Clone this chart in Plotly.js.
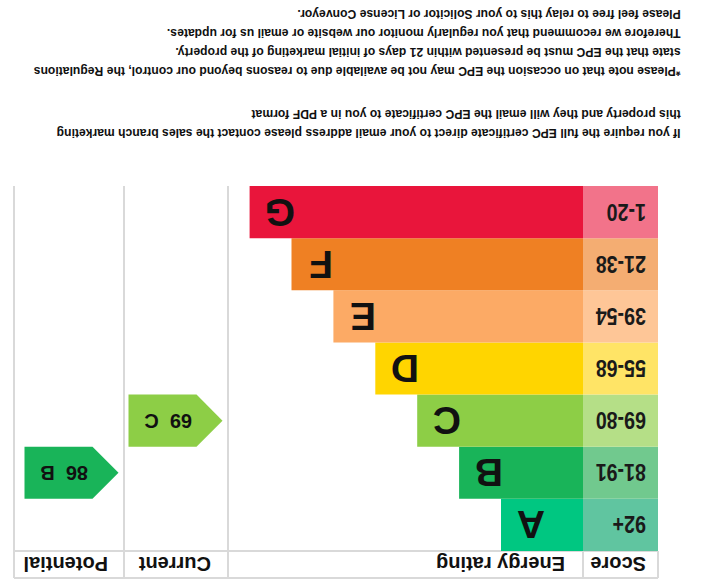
<!DOCTYPE html>
<html>
<head>
<meta charset="utf-8">
<script src="https://cdn.plot.ly/plotly-3.0.1.min.js"></script>
<style>
  html, body { margin: 0; padding: 0; background: #ffffff; }
  #chart { width: 704px; height: 582px; transform: rotate(180deg); transform-origin: 50% 50%; }
</style>
</head>
<body>
<div id="chart"></div>
<script>
// ---------- data ----------
const bands = ['A', 'B', 'C', 'D', 'E', 'F', 'G'];
const scoreRanges = ['92+', '81-91', '69-80', '55-68', '39-54', '21-38', '1-20'];
const bandColors = ['#00c781', '#19b459', '#8dce46', '#ffd500', '#fcaa65', '#ef8023', '#e9153b'];
const cellColors = ['#60c5a0', '#71c98e', '#b5df87', '#ffe466', '#fec697', '#f4ad72', '#f2738a'];
const headers = ['Score', 'Energy rating', 'Current', 'Potential'];
const currentScore = 69;
const currentBand = 'C';
const potentialScore = 86;
const potentialBand = 'B';
const noteBlock1 = [
  'If you require the full EPC certificate direct to your email address please contact the sales branch marketing',
  'this property and they will email the EPC certificate to you in a PDF format'
];
const noteBlock2 = [
  '*Please note that on occasion the EPC may not be available due to reasons beyond our control, the Regulations',
  'state that the EPC must be presented within 21 days of initial marketing of the property.',
  'Therefore we recommend that you regularly monitor our website or email us for updates.',
  'Please feel free to relay this to your Solicitor or License Conveyor.'
];

// ---------- layout constants (upright drawing, page rotated 180deg) ----------
const W = 704, H = 582;
const HEAD_Y0 = 4, HEAD_Y1 = 31;
const ROW_TOP = 31, ROW_H = 52.14;
const SCORE_X0 = 46, SCORE_X1 = 121;
const BAR_LEN0 = 82, BAR_STEP = 41.9;
const CUR_COL = [476, 580], POT_COL = [580, 690];
const ARROW_INSET = 5.5, ARROW_TIP = 26, ARROW_LEN = 94;
const GRID = '#d9d9d9';
const BOLD = 'Liberation Sans, Arial, sans-serif';
const SCORE_SCALE = 0.82, NOTE_SCALE = 0.937;
const NOTE_X = 21, NOTE1_Y = 448, NOTE2_Y = 510, NOTE_DY = 19.3;

const rowCenter = i => ROW_TOP + (i + 0.5) * ROW_H;
const rowY = bands.map((b, i) => rowCenter(i));
const barLen = bands.map((b, i) => BAR_LEN0 + i * BAR_STEP);

const traces = [];
// score cells
traces.push({
  type: 'bar', orientation: 'h',
  y: rowY, x: bands.map(() => SCORE_X1 - SCORE_X0), base: bands.map(() => SCORE_X0),
  width: bands.map(() => ROW_H),
  marker: { color: cellColors, line: { width: 0 } },
  hoverinfo: 'skip', showlegend: false
});
// rating bars
traces.push({
  type: 'bar', orientation: 'h',
  y: rowY, x: barLen, base: bands.map(() => SCORE_X1),
  width: bands.map(() => ROW_H),
  marker: { color: bandColors, line: { width: 0 } },
  hoverinfo: 'skip', showlegend: false
});

// arrows
function arrow(col, band) {
  const i = bands.indexOf(band);
  const y0 = ROW_TOP + i * ROW_H, y1 = y0 + ROW_H, ym = (y0 + y1) / 2;
  const xt = col[0] + ARROW_INSET, xe = xt + ARROW_LEN, xf = xt + ARROW_TIP;
  return {
    trace: {
      type: 'scatter', mode: 'lines', fill: 'toself',
      x: [xt, xf, xe, xe, xf, xt], y: [ym, y0, y0, y1, y1, ym],
      line: { width: 0, color: bandColors[i] }, fillcolor: bandColors[i],
      hoverinfo: 'skip', showlegend: false
    },
    center: [(xt + xe) / 2 + 7, ym]
  };
}
const curArrow = arrow(CUR_COL, currentBand);
const potArrow = arrow(POT_COL, potentialBand);
traces.push(curArrow.trace, potArrow.trace);

// ---------- text ----------
const annotations = [];
const condensed = [];
function addCondensed(a, s) { condensed.push([annotations.length, s]); annotations.push(a); }

bands.forEach((b, i) => {
  annotations.push({
    x: SCORE_X1 + barLen[i] - 30, y: rowY[i], text: b, showarrow: false,
    xanchor: 'center', yanchor: 'middle',
    font: { family: BOLD, size: 39, color: '#111111', weight: 'bold' }
  });
  addCondensed({
    x: SCORE_X0 + 10, y: rowY[i], text: scoreRanges[i], showarrow: false,
    xanchor: 'left', yanchor: 'middle',
    font: { family: BOLD, size: 24, color: '#1a1a1a', weight: 'bold' }
  }, SCORE_SCALE);
});
const headX = [SCORE_X0 + 10, SCORE_X1 + 16, CUR_COL[0] + 15, POT_COL[0] + 14];
headers.forEach((h, k) => {
  annotations.push({
    x: headX[k], y: (HEAD_Y0 + HEAD_Y1) / 2, text: h, showarrow: false,
    xanchor: 'left', yanchor: 'middle',
    font: { family: BOLD, size: 20, color: '#111111', weight: 'bold' }
  });
});
annotations.push({
  x: curArrow.center[0], y: curArrow.center[1],
  text: currentScore + '\u00a0\u00a0' + currentBand, showarrow: false,
  xanchor: 'center', yanchor: 'middle',
  font: { family: BOLD, size: 20, color: '#111111', weight: 'bold' }
});
annotations.push({
  x: potArrow.center[0], y: potArrow.center[1],
  text: potentialScore + '\u00a0\u00a0' + potentialBand, showarrow: false,
  xanchor: 'center', yanchor: 'middle',
  font: { family: BOLD, size: 20, color: '#111111', weight: 'bold' }
});
noteBlock1.forEach((t, k) => addCondensed({
  x: NOTE_X, y: NOTE1_Y + k * NOTE_DY, text: t, showarrow: false,
  xanchor: 'left', yanchor: 'middle',
  font: { family: BOLD, size: 13, color: '#111111', weight: 'bold' }
}, NOTE_SCALE));
noteBlock2.forEach((t, k) => addCondensed({
  x: NOTE_X, y: NOTE2_Y + k * NOTE_DY, text: t, showarrow: false,
  xanchor: 'left', yanchor: 'middle',
  font: { family: BOLD, size: 13, color: '#111111', weight: 'bold' }
}, NOTE_SCALE));

// ---------- grid lines ----------
const bodyBottom = ROW_TOP + bands.length * ROW_H;
const shapes = [];
[CUR_COL[0], POT_COL[0], POT_COL[1]].forEach(x => shapes.push({
  type: 'line', xref: 'x', yref: 'y', x0: x, x1: x, y0: HEAD_Y0, y1: bodyBottom,
  line: { color: GRID, width: 2 }, layer: 'below'
}));
[SCORE_X0, SCORE_X1].forEach(x => shapes.push({
  type: 'line', xref: 'x', yref: 'y', x0: x, x1: x, y0: HEAD_Y0, y1: HEAD_Y1,
  line: { color: GRID, width: 2 }, layer: 'below'
}));
[HEAD_Y0, HEAD_Y1].forEach(y => shapes.push({
  type: 'line', xref: 'x', yref: 'y', x0: SCORE_X0, x1: POT_COL[1], y0: y, y1: y,
  line: { color: GRID, width: 2 }, layer: 'below'
}));

const layout = {
  width: W, height: H,
  margin: { l: 0, r: 0, t: 0, b: 0, pad: 0 },
  paper_bgcolor: '#ffffff', plot_bgcolor: '#ffffff',
  xaxis: { range: [0, W], visible: false, fixedrange: true },
  yaxis: { range: [H, 0], visible: false, fixedrange: true },
  barmode: 'overlay',
  showlegend: false,
  annotations: annotations,
  shapes: shapes
};

Plotly.newPlot('chart', traces, layout, { displayModeBar: false, staticPlot: true }).then(gd => {
  // condense narrow-style texts horizontally about their left edge
  condensed.forEach(([k, s]) => {
    const t = gd.querySelector('.annotation[data-index="' + k + '"] text.annotation-text');
    if (!t) return;
    const bb = t.getBBox();
    const prev = t.getAttribute('transform') || '';
    t.setAttribute('transform', (prev + ' translate(' + bb.x + ',0) scale(' + s + ',1) translate(' + (-bb.x) + ',0)').trim());
  });
});
</script>
</body>
</html>
